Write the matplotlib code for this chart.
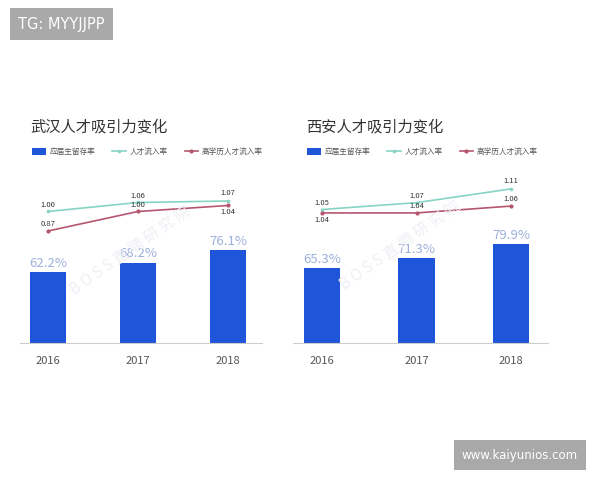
import matplotlib
matplotlib.use("Agg")
import matplotlib.pyplot as plt

plt.rcParams['font.family'] = ['Noto Sans CJK SC', 'DejaVu Sans']

years = ['2016', '2017', '2018']
legend_labels = ['应届生留存率', '人才流入率', '高学历人才流入率']

# 武汉
wh_title = '武汉人才吸引力变化'
wh_retain = [62.2, 68.2, 76.1]
wh_inflow = [1.00, 1.06, 1.07]
wh_high = [0.87, 1.00, 1.04]

# 西安
xa_title = '西安人才吸引力变化'
xa_retain = [65.3, 71.3, 79.9]
xa_inflow = [1.05, 1.07, 1.11]
xa_high = [1.04, 1.04, 1.06]

BLUE = '#1f55d9'
TEAL = '#86d4c4'
PINK = '#b5566f'

fig = plt.figure(figsize=(6, 4.8), dpi=100)
fig.patch.set_facecolor('white')


def panel(left_px, right_px, x0_px, step_px, title, title_x, retain, inflow, high,
          bar_lim, line_lim, inflow_off, high_off, leg_x):
    W, H = 600.0, 480.0
    top_px, base_px = 180, 343
    ax = fig.add_axes([left_px / W, 1 - base_px / H, (right_px - left_px) / W, (base_px - top_px) / H])
    x = list(range(len(years)))
    bars = ax.bar(x, retain, width=0.39, color=BLUE, label=legend_labels[0])
    ax.set_xlim(-(x0_px - left_px) / step_px, (right_px - x0_px) / step_px)
    ax.set_ylim(*bar_lim)
    for xi, v in zip(x, retain):
        ax.text(xi, v + 1.5, f'{v}%', ha='center', va='bottom', fontsize=9.5, color='#9db0dc')
    ax.set_xticks(x)
    ax.set_xticklabels(years, fontsize=8, color='#555555')
    ax.tick_params(axis='x', length=0, pad=9)
    ax.set_yticks([])
    for s in ['top', 'right', 'left']:
        ax.spines[s].set_visible(False)
    ax.spines['bottom'].set_color('#cccccc')
    ax.set_facecolor('none')

    ax2 = ax.twinx()
    l1, = ax2.plot(x, inflow, color=TEAL, lw=1.2, marker='o', ms=1.6, label=legend_labels[1])
    l2, = ax2.plot(x, high, color=PINK, lw=1.2, marker='o', ms=2.0, label=legend_labels[2])
    ax2.set_ylim(*line_lim)
    ax2.axis('off')
    for xi, v, o in zip(x, inflow, inflow_off):
        ax2.annotate(f'{v:.2f}', (xi, v), xytext=(0, o), textcoords='offset points',
                     ha='center', va='center', fontsize=5.5, color='#333333')
    for xi, v, o in zip(x, high, high_off):
        ax2.annotate(f'{v:.2f}', (xi, v), xytext=(0, o), textcoords='offset points',
                     ha='center', va='center', fontsize=5.5, color='#333333')

    fig.text(title_x / W, 1 - 127 / H, title, fontsize=11, color='#333333', va='center')
    fig.legend(handles=[bars, l1, l2], loc='center left',
               bbox_to_anchor=(leg_x / W, 1 - 152 / H), ncol=3, frameon=False,
               fontsize=5.5, handlelength=1.8, handleheight=0.9, columnspacing=2.2,
               handletextpad=0.5, labelcolor='#555555')
    return ax


panel(20, 262, 48, 90, wh_title, 30, wh_retain, wh_inflow, wh_high,
      (17.3, 120.5), (0.123, 1.21), [5, 5, 6], [5, 5, -5], 25)
panel(293, 548, 322, 94.5, xa_title, 306, xa_retain, xa_inflow, xa_high,
      (19.6, 119), (0.661, 1.136), [5, 5, 6], [-5, 5, 5], 300)

# faint diagonal watermarks
fig.text(130 / 600, 1 - 250 / 480, 'B O S S 直 聘 研 究 院', fontsize=11, color='#eef0f5',
         rotation=35, ha='center', va='center', zorder=0)
fig.text(400 / 600, 1 - 245 / 480, 'B O S S 直 聘 研 究 院', fontsize=11, color='#eef0f5',
         rotation=35, ha='center', va='center', zorder=0)

# corner tags
fig.text(18 / 600, 1 - 24 / 480, 'TG: MYYJJPP', fontsize=10.5, color='white', va='center',
         family=['DejaVu Sans'],
         bbox=dict(facecolor='#a9a9a9', edgecolor='none', boxstyle='square,pad=0.55'))
fig.text(462 / 600, 1 - 455 / 480, 'www.kaiyunios.com', fontsize=8.5, color='white', va='center',
         family=['DejaVu Sans'],
         bbox=dict(facecolor='#a9a9a9', edgecolor='none', boxstyle='square,pad=0.7'))

fig.savefig('out.png', dpi=100)
